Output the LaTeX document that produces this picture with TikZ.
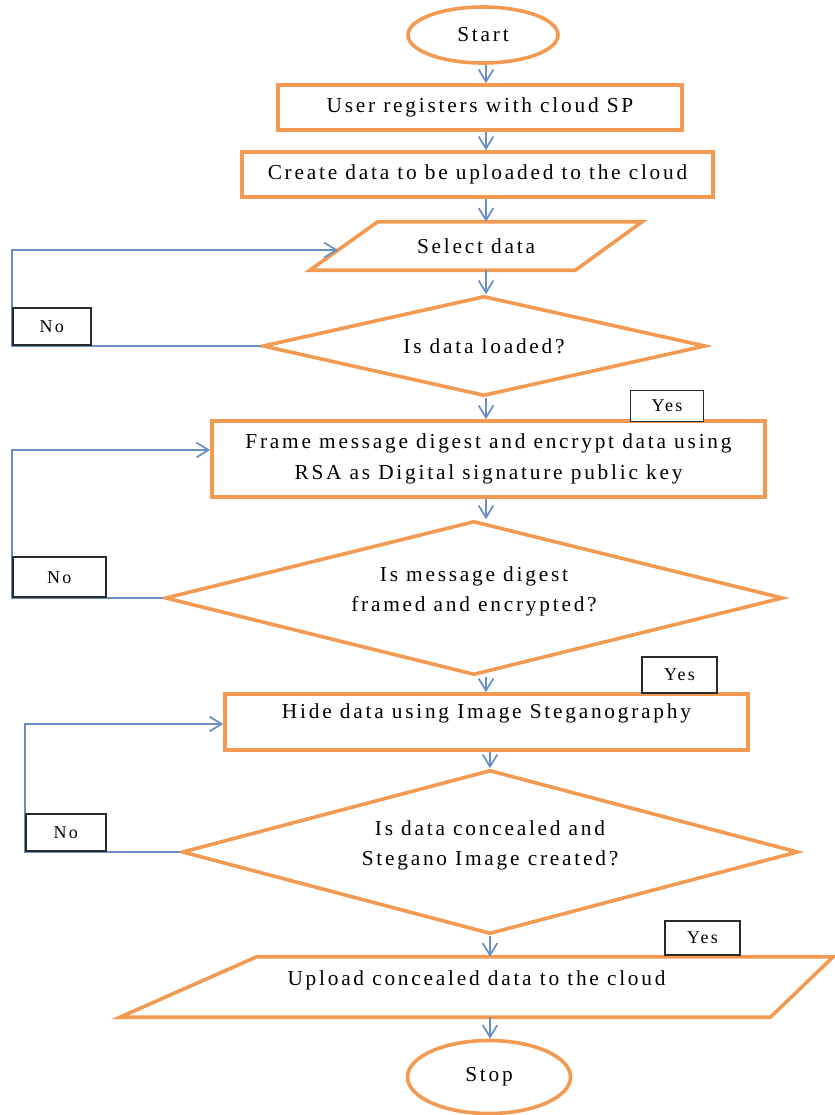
\documentclass[tikz,border=0pt]{standalone}
\usepackage{fontspec}
\setmainfont{Liberation Serif}[LetterSpace=13]
\usetikzlibrary{arrows.meta,shapes.geometric,calc}
\definecolor{shapeorange}{HTML}{F39A52}
\definecolor{flowblue}{HTML}{6A8FC4}
\definecolor{labelgray}{HTML}{2A2A2A}
\newcommand{\pxu}{0.75pt}
\begin{document}
\begin{tikzpicture}[x=0.75pt,y=-0.75pt,
  every node/.style={font=\fontsize{16}{23}\selectfont},
  procbox/.style={draw=shapeorange, line width=2.7pt, fill=white, rectangle, inner sep=0pt},
  termin/.style={draw=shapeorange, line width=2.7pt, fill=white, ellipse, inner sep=0pt},
  decide/.style={draw=shapeorange, line width=2.7pt, fill=white, diamond, inner sep=0pt, align=center},
  iobox/.style={rectangle, inner sep=0pt},
  ioline/.style={draw=shapeorange, line width=2.7pt, line join=miter},
  flow/.style={draw=flowblue, line width=1.3pt, -{Straight Barb[length=9pt,width=11pt]}},
  tagbox/.style={draw=labelgray, line width=1.2pt, fill=white, rectangle, inner sep=0pt, font=\fontsize{13.5}{15}\selectfont},
]
\useasboundingbox (0,0) rectangle (835,1115);
\coordinate (axisA) at (486,0);
\coordinate (axisB) at (490,0);

% shapes
\node[termin, minimum width=150*\pxu, minimum height=56*\pxu] (start) at (483,35) {Start};
\node[procbox, minimum width=404*\pxu, minimum height=45*\pxu] (reg) at (480,107.5) {User registers with cloud SP};
\node[procbox, minimum width=471*\pxu, minimum height=45*\pxu] (create) at (477.5,174.5) {Create data to be uploaded to the cloud};
\node[iobox, minimum width=332*\pxu, minimum height=48*\pxu] (select) at (476,246) {Select data};
\draw[ioline] ([xshift=68*\pxu]select.north west) -- (select.north east) -- ([xshift=-67*\pxu]select.south east) -- (select.south west) -- cycle;
\node[decide, aspect=4.43, minimum width=443*\pxu, minimum height=100*\pxu] (loaded) at (484,346) {Is data loaded?};
\node[procbox, minimum width=553*\pxu, minimum height=76*\pxu, align=center] (frame) at (488.5,459) {Frame message digest and encrypt data using\\RSA as Digital signature public key};
\node[decide, aspect=4, minimum width=618*\pxu, minimum height=154*\pxu, text depth=13.6pt] (digest) at (474,598) {Is message digest\\framed and encrypted?};
\node[procbox, minimum width=523*\pxu, minimum height=56*\pxu, text depth=16.5pt] (hide) at (486.5,722) {Hide data using Image Steganography};
\node[decide, aspect=3.76, minimum width=616*\pxu, minimum height=164*\pxu, text depth=13.6pt] (conceal) at (490,852) {Is data concealed and\\Stegano Image created?};
\node[iobox, minimum width=713*\pxu, minimum height=60*\pxu, text depth=13.6pt] (upload) at (476.5,987) {Upload concealed data to the cloud};
\draw[ioline] ([xshift=137*\pxu]upload.north west) -- (upload.north east) -- ([xshift=-63*\pxu]upload.south east) -- (upload.south west) -- cycle;
\node[termin, minimum width=163*\pxu, minimum height=73*\pxu] (stop) at (489,1077) {Stop};

% main flow
\draw[flow] (start.south -| axisA) -- (reg.north -| axisA);
\draw[flow] (reg.south -| axisA) -- (create.north -| axisA);
\draw[flow] (create.south -| axisA) -- (select.north -| axisA);
\draw[flow] (select.south -| axisA) -- (loaded.north -| axisA);
\draw[flow] (loaded.south -| axisA) -- (frame.north -| axisA);
\draw[flow] (frame.south -| axisA) -- (digest.north -| axisA);
\draw[flow] (digest.south -| axisA) -- (hide.north -| axisA);
\draw[flow] (hide.south -| axisB) -- (conceal.north -| axisB);
\draw[flow] (conceal.south -| axisB) -- (upload.north -| axisB);
\draw[flow] (upload.south -| axisB) -- (stop.north -| axisB);

% loops back
\coordinate (c1) at (12,346);
\coordinate (selin) at ($(select.south west)!0.4167!([xshift=68*\pxu]select.north west)$);
\draw[flow] (loaded.west) -- (c1) -- (c1 |- selin) -- (selin);
\coordinate (c2) at (12,598);
\coordinate (framein) at ([yshift=9*\pxu]frame.west);
\draw[flow] (digest.west) -- (c2) -- (c2 |- framein) -- (framein);
\coordinate (c3) at (25,852);
\coordinate (hidein) at ([yshift=-2*\pxu]hide.west);
\draw[flow] (conceal.west) -- (c3) -- (c3 |- hidein) -- (hidein);

% labels
\node[tagbox, anchor=south west, minimum width=78*\pxu, minimum height=37*\pxu] (no1) at (c1) {No};
\node[tagbox, anchor=south west, minimum width=93*\pxu, minimum height=40*\pxu] (no2) at (c2) {No};
\node[tagbox, anchor=south west, minimum width=80*\pxu, minimum height=37*\pxu] (no3) at (c3) {No};
\node[tagbox, minimum width=73*\pxu, minimum height=31*\pxu] (yes1) at (667,406) {Yes};
\node[tagbox, minimum width=75*\pxu, minimum height=36*\pxu] (yes2) at (679.5,675) {Yes};
\node[tagbox, minimum width=75*\pxu, minimum height=34*\pxu] (yes3) at (702.5,938) {Yes};
\end{tikzpicture}
\end{document}
